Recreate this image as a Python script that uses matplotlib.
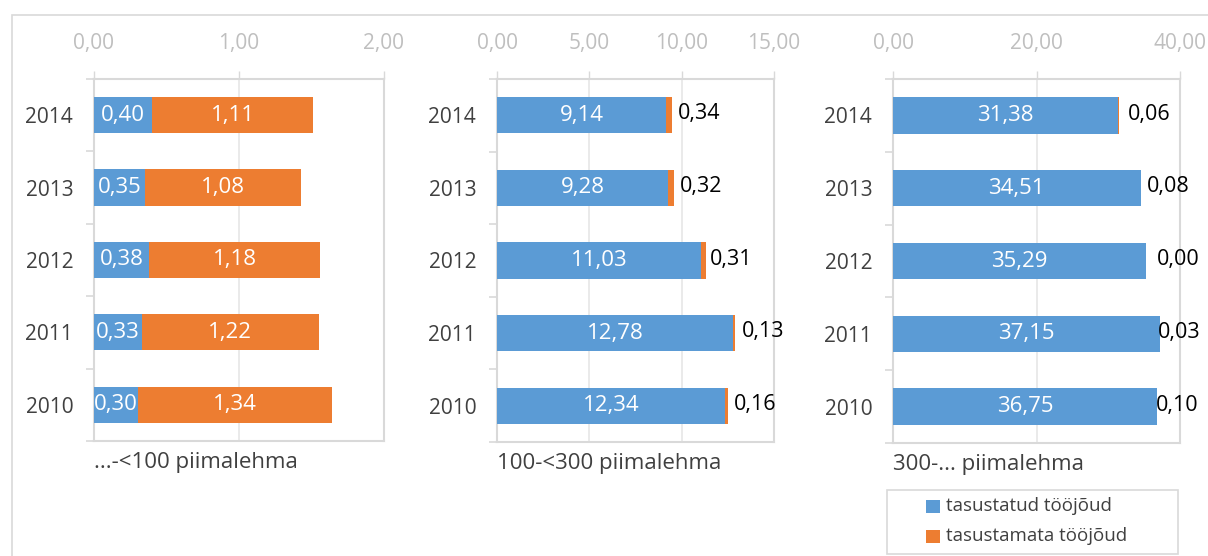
import matplotlib
matplotlib.use("Agg")
import matplotlib.pyplot as plt
from matplotlib.patches import Rectangle
from matplotlib.ticker import MultipleLocator, FixedLocator

plt.rcParams['font.family'] = ['Open Sans', 'DejaVu Sans']

years = ['2010', '2011', '2012', '2013', '2014']
paid_small = [0.30, 0.33, 0.38, 0.35, 0.40]
unpaid_small = [1.34, 1.22, 1.18, 1.08, 1.11]
paid_mid = [12.34, 12.78, 11.03, 9.28, 9.14]
unpaid_mid = [0.16, 0.13, 0.31, 0.32, 0.34]
paid_large = [36.75, 37.15, 35.29, 34.51, 31.38]
unpaid_large = [0.10, 0.03, 0.00, 0.08, 0.06]
group_titles = ['...-<100 piimalehma', '100-<300 piimalehma', '300-... piimalehma']
series_names = ['tasustatud tööjõud', 'tasustamata tööjõud']
x_max = [2, 15, 40]
x_step = [1, 5, 20]

BLUE = '#5B9BD5'
ORANGE = '#ED7D31'
AXC = '#D9D9D9'
GRIDC = '#E6E6E6'

W, H = 1208, 556
fig = plt.figure(figsize=(W / 100, H / 100), dpi=100)

# outer chart border
fig.patches.append(Rectangle((12 / W, -0.05), 1.2, (556 - 15) / H + 0.05,
                             transform=fig.transFigure, fill=False,
                             edgecolor=AXC, linewidth=1.2))

panels = [
    (94, 384, 441, paid_small, unpaid_small, 'inside', None),
    (497, 774, 442, paid_mid, unpaid_mid, 'outside', [6, 6, 3, 6, 6]),
    (893, 1180, 443, paid_large, unpaid_large, 'outside', [-2, -2, 11, 6, 9]),
]
top = 79

def fmt(v):
    return f"{v:.2f}".replace('.', ',')

for i, (x0, x1, yb, paid, unpaid, mode, dx) in enumerate(panels):
    ax = fig.add_axes([x0 / W, 1 - yb / H, (x1 - x0) / W, (yb - top) / H])
    ypos = list(range(len(years)))
    ax.barh(ypos, paid, height=0.5, color=BLUE, zorder=3)
    ax.barh(ypos, unpaid, left=paid, height=0.5, color=ORANGE, zorder=3)
    ax.set_xlim(0, x_max[i])
    ax.set_ylim(-0.5, len(years) - 0.5)
    ax.xaxis.set_major_locator(MultipleLocator(x_step[i]))
    ax.set_xticklabels([fmt(t) for t in ax.get_xticks()])
    ax.xaxis.tick_top()
    ax.tick_params(axis='x', which='major', length=5.8, width=1, color=AXC,
                   pad=12, labelsize=15, labelcolor='#BFBFBF', top=True, bottom=False)
    ax.set_yticks(ypos)
    ax.set_yticklabels(years)
    ax.yaxis.set_minor_locator(FixedLocator([k - 0.5 for k in range(len(years) + 1)]))
    ax.tick_params(axis='y', which='major', length=0, pad=15, labelsize=15,
                   labelcolor='#404040')
    ax.tick_params(axis='y', which='minor', length=5.8, width=1.2, color=AXC)
    ax.grid(axis='x', color=GRIDC, linewidth=1.2, zorder=0)
    ax.set_axisbelow(True)
    for s in ax.spines.values():
        s.set_color(AXC)
        s.set_linewidth(1.5)

    for k in ypos:
        p, u = paid[k], unpaid[k]
        ax.text(p / 2, k, fmt(p), ha='center', va='center', color='white',
                fontsize=16, zorder=5)
        if mode == 'inside':
            ax.text(p + u / 2, k, fmt(u), ha='center', va='center', color='white',
                    fontsize=16, zorder=5)
        else:
            ax.annotate(fmt(u), xy=(p + u, k), xytext=(dx[k] * 0.72, 1),
                        textcoords='offset points', ha='left', va='center',
                        color='black', fontsize=15.5, zorder=5, annotation_clip=False)

    ax.annotate(group_titles[i], xy=(0, 0), xycoords='axes fraction',
                xytext=(0, -8), textcoords='offset points', ha='left', va='top',
                fontsize=16, color='#404040')

# legend box drawn in figure pixels
def fx(px):
    return px / W

def fy(py):
    return 1 - py / H

fig.patches.append(Rectangle((fx(887), fy(554)), (1178 - 887) / W, (554 - 490) / H,
                             transform=fig.transFigure, fill=False,
                             edgecolor=AXC, linewidth=1.2))
for name, col, yc in zip(series_names, [BLUE, ORANGE], [506, 536]):
    fig.patches.append(Rectangle((fx(926), fy(yc + 6.5)), 14 / W, 13 / H,
                                 transform=fig.transFigure, facecolor=col,
                                 edgecolor='none'))
    fig.text(fx(946), fy(yc), name, ha='left', va='center', fontsize=13.5,
             color='#404040')

fig.savefig('out.png', dpi=100)
